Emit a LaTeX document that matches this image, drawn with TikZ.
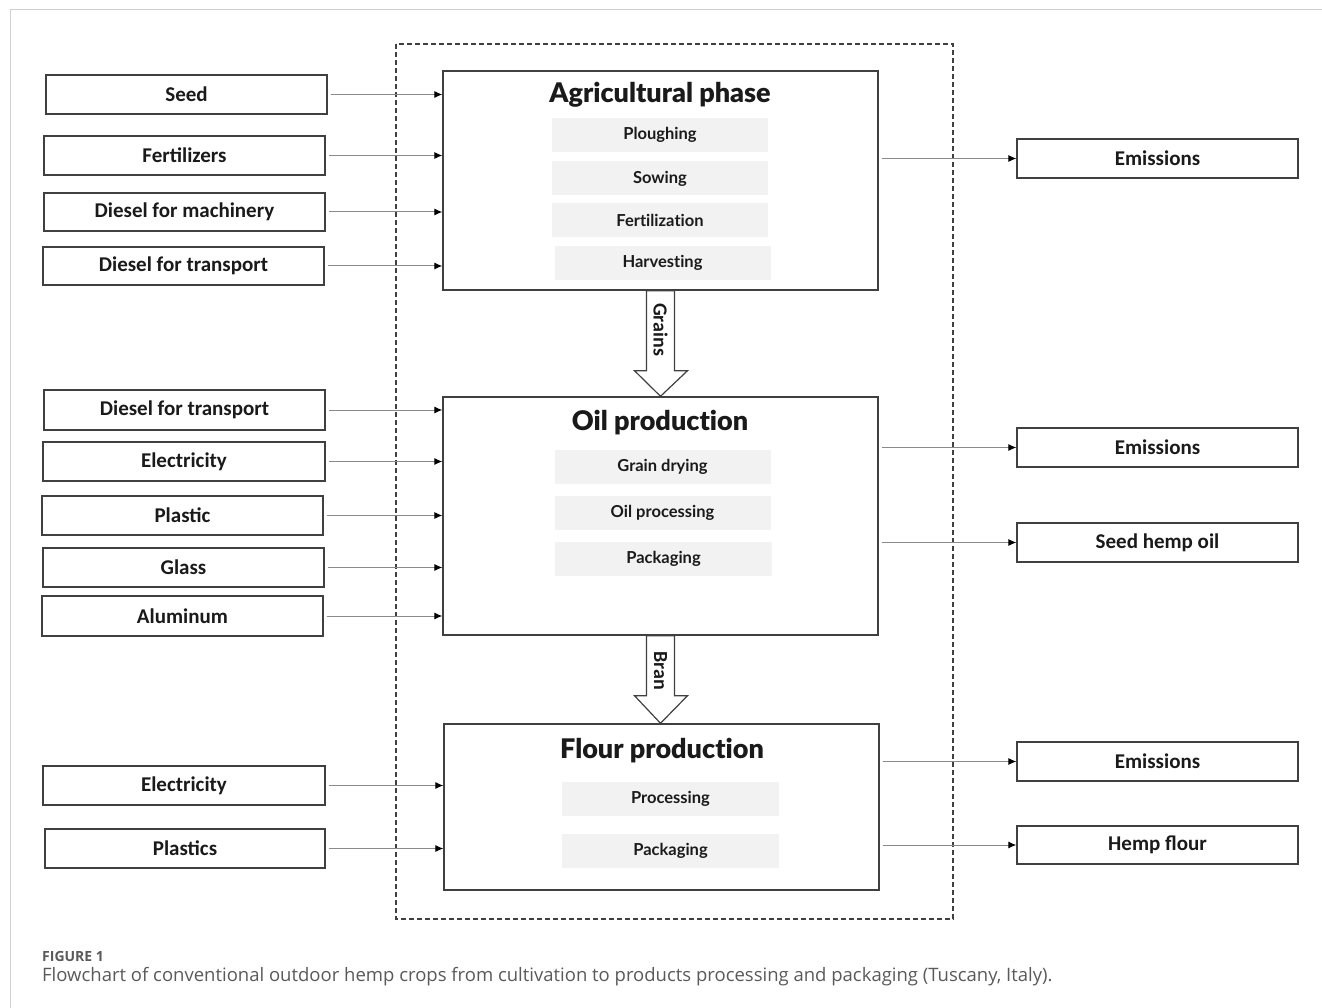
\documentclass[tikz,border=0pt]{standalone}
\usepackage{fontspec}
\setmainfont{Carlito}
\newfontfamily\titlefamily{Lato}[Ligatures={NoCommon}]
\newfontfamily\titleblack{Lato Black}[Ligatures={NoCommon}]
\newfontfamily\capfamily{Open Sans}
\usetikzlibrary{arrows.meta,calc}
\definecolor{boxc}{HTML}{404040}
\definecolor{linec}{HTML}{8A8A8A}
\definecolor{txt}{HTML}{1A1A1A}
\definecolor{subgray}{HTML}{F2F2F2}
\definecolor{framec}{HTML}{D0D0D0}
\definecolor{capc}{HTML}{5A5A5A}
\newcommand{\inputfont}{\fontsize{21}{24}\selectfont\bfseries}
\newcommand{\titlefnt}{\titleblack\fontsize{27}{31}\selectfont}
\newcommand{\subfnt}{\titlefamily\fontsize{16.5}{19}\selectfont\bfseries}
\tikzset{
  inbox/.style={draw=boxc, line width=1.4pt, minimum width=281, minimum height=39, inner sep=0pt, font=\inputfont, text=txt},
  phase/.style={draw=boxc, line width=1.4pt, inner sep=0pt},
  subbox/.style={fill=subgray, minimum width=216, minimum height=34, inner sep=0pt, font=\subfnt, text=txt},
  ptitle/.style={font=\titlefnt, text=txt, inner sep=0pt},
  flow/.style={draw=linec, line width=1pt, -{Latex[length=8pt,width=7pt,color=black]}},
  blockarrow/.style={draw=boxc, line width=1.2pt, fill=white, line join=miter},
  arrlabel/.style={font=\fontsize{20}{22}\selectfont\bfseries, text=txt, rotate=-90, inner sep=0pt}
}
\begin{document}
\begin{tikzpicture}[x=1pt,y=-1pt]
\useasboundingbox[fill=white] (0,0) rectangle (1322,1008);
% page frame
\draw[framec, line width=1pt] (1322,10) -- (10,10) -- (10,1008);

% dashed system boundary
\draw[boxc, line width=1.3pt, dash pattern=on 5pt off 3pt] (396,44) rectangle (953,919);

% phase boxes
\node[phase, minimum width=435, minimum height=219] (agri) at (660.5,180.5) {};
\node[phase, minimum width=435, minimum height=238] (oil) at (660.5,516) {};
\node[phase, minimum width=435, minimum height=166] (flour) at (661.5,807) {};

\node[ptitle] (agrit) at (660,95) {Agricultural phase};
\node[ptitle] (oilt) at (660,423) {Oil production};
\node[ptitle] (flourt) at (662,751) {Flour production};

% sub steps
\node[subbox] (plough) at (660,135) {Ploughing};
\node[subbox] (sow) at (660,178.5) {Sowing};
\node[subbox] (fertz) at (660,220) {Fertilization};
\node[subbox] (harv) at (662.5,263) {Harvesting};
\node[subbox] (dry) at (662.5,467) {Grain drying};
\node[subbox] (oproc) at (662.5,513) {Oil processing};
\node[subbox, minimum width=217] (opack) at (663.5,559) {Packaging};
\node[subbox, minimum width=217] (fproc) at (670.5,799) {Processing};
\node[subbox, minimum width=217] (fpack) at (670.5,851) {Packaging};

% block arrows
\draw[blockarrow] ($(agri.south)+(-14,0)$) -- ++(0,80) -- ++(-12,0) -- ($(oil.north)+(0,0)$) -- ($(agri.south)+(27,80)$) -- ++(-13,0) -- ($(agri.south)+(14,0)$) -- cycle;
\node[arrlabel] (grains) at ($(agri.south)+(0,39)$) {Grains};
\draw[blockarrow] ($(oil.south)+(-14,0)$) -- ++(0,60) -- ++(-12,0) -- ($(flour.north)+(-1,0)$) -- ($(oil.south)+(27,60)$) -- ++(-13,0) -- ($(oil.south)+(14,0)$) -- cycle;
\node[arrlabel] (bran) at ($(oil.south)+(0,35)$) {Bran};

% inputs: agricultural phase
\node[inbox] (seed) at (186.5,94.5) {Seed};
\node[inbox] (fert) at (184.5,155.5) {Fertilizers};
\node[inbox, minimum height=38] (dmach) at (184.5,212) {Diesel for machinery};
\node[inbox, minimum height=38] (dtra) at (183.5,266) {Diesel for transport};
% inputs: oil production
\node[inbox, minimum height=40] (dtrb) at (184.5,410) {Diesel for transport};
\node[inbox, minimum width=282] (elea) at (184,461.5) {Electricity};
\node[inbox] (plas) at (182.5,515.5) {Plastic};
\node[inbox] (glass) at (183.5,567.5) {Glass};
\node[inbox, minimum height=40] (alu) at (182.5,616) {Aluminum};
% inputs: flour production
\node[inbox, minimum width=282] (eleb) at (184,785.5) {Electricity};
\node[inbox, minimum width=280] (plss) at (185,848.5) {Plastics};

% outputs
\node[inbox] (em1) at (1157.5,158.5) {Emissions};
\node[inbox] (em2) at (1157.5,447.5) {Emissions};
\node[inbox] (shoil) at (1157.5,542.5) {Seed hemp oil};
\node[inbox] (em3) at (1157.5,761.5) {Emissions};
\node[inbox, minimum height=38] (hflour) at (1157.5,845) {Hemp flour};

% input connectors
\foreach \n in {seed,fert,dmach,dtra}{
  \draw[flow] ($(\n.east)+(3,0)$) -- (\n.east -| agri.west);
}
\foreach \n in {dtrb,elea,plas,glass,alu}{
  \draw[flow] ($(\n.east)+(3,0)$) -- (\n.east -| oil.west);
}
\foreach \n in {eleb,plss}{
  \draw[flow] ($(\n.east)+(3,0)$) -- (\n.east -| flour.west);
}
% output connectors
\draw[flow] ($(em1.west -| agri.east)+(3,0)$) -- (em1.west);
\draw[flow] ($(em2.west -| oil.east)+(3,0)$) -- (em2.west);
\draw[flow] ($(shoil.west -| oil.east)+(3,0)$) -- (shoil.west);
\draw[flow] ($(em3.west -| flour.east)+(3,0)$) -- (em3.west);
\draw[flow] ($(hflour.west -| flour.east)+(3,0)$) -- (hflour.west);

% caption
\node[anchor=base west, inner sep=0pt, text=capc, font=\capfamily\fontsize{14}{16}\selectfont\bfseries] (figlab) at (42,961) {FIGURE 1};
\node[anchor=base west, inner sep=0pt, text=capc, font=\capfamily\fontsize{18.5}{21}\selectfont] (caption) at (42,981) {Flowchart of conventional outdoor hemp crops from cultivation to products processing and packaging (Tuscany, Italy).};
\end{tikzpicture}
\end{document}
